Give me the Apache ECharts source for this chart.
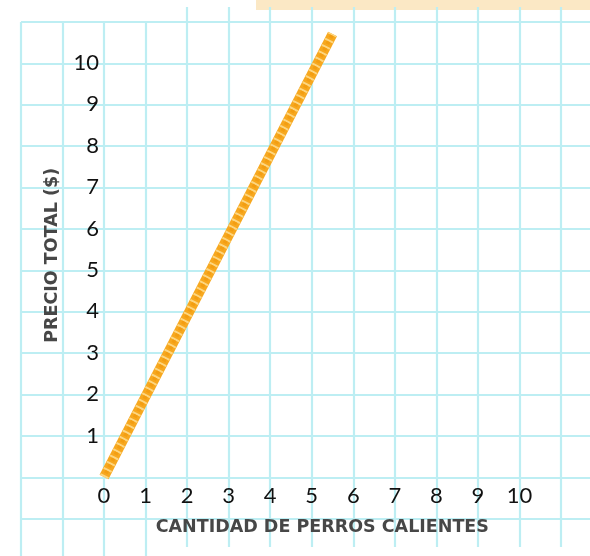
<!DOCTYPE html>
<html>
<head>
<meta charset="utf-8">
<script src="https://cdn.jsdelivr.net/npm/echarts@6/dist/echarts.min.js"></script>
<style>
html,body{margin:0;padding:0;background:#fff;}
#chart{width:590px;height:556px;}
</style>
</head>
<body>
<div id="chart"></div>
<script>
// Data
const hotDogs = [0, 5.5];          // CANTIDAD DE PERROS CALIENTES
const totalPrice = [0, 10.7];      // PRECIO TOTAL ($)
const xTickLabels = ['0','1','2','3','4','5','6','7','8','9','10'];
const yTickLabels = ['1','2','3','4','5','6','7','8','9','10'];
const xTitle = 'CANTIDAD DE PERROS CALIENTES';
const yTitle = 'PRECIO TOTAL ($)';

const UX = 41.55, UY = 41.4, X0 = 104, Y0 = 477;
const GRIDC = '#BDEEF3';
const FONT = 'Lato';
const TFONT = 'DejaVu Sans';

const ropeData = hotDogs.map((x, i) => [x, totalPrice[i]]);

const chart = echarts.init(document.getElementById('chart'), null, {renderer: 'canvas'});
const hidden = {show: false};
const noAxisLine = {show: false};

const option = {
  animation: false,
  backgroundColor: '#fff',
  graphic: [{
    type: 'rect', z: -10,
    shape: {x: 256, y: 0, width: 334, height: 10},
    style: {fill: '#FBE8C5'}
  }],
  grid: [
    // horizontal grid lines
    {left: 21, top: 22, width: 620, height: 13 * UY, outerBoundsMode: 'none', containLabel: false},
    // left vertical grid lines
    {left: X0 - 2 * UX, top: 22, width: 3 * UX, height: 545, outerBoundsMode: 'none', containLabel: false},
    // right vertical grid lines
    {left: X0 + 2 * UX, top: 7, width: 10 * UX, height: 540, outerBoundsMode: 'none', containLabel: false},
    // data grid
    {left: X0, top: Y0 - 11 * UY, width: 12 * UX, height: 11 * UY, outerBoundsMode: 'none', containLabel: false}
  ],
  xAxis: [
    {gridIndex: 0, type: 'value', min: 0, max: 1, show: false},
    {gridIndex: 1, type: 'value', min: -2, max: 1, interval: 1,
      axisLine: noAxisLine, axisTick: hidden, axisLabel: hidden,
      splitLine: {show: true, lineStyle: {color: GRIDC, width: 2.2}}},
    {gridIndex: 2, type: 'value', min: 2, max: 12, interval: 1,
      axisLine: noAxisLine, axisTick: hidden, axisLabel: hidden,
      splitLine: {show: true, lineStyle: {color: GRIDC, width: 2.2}}},
    {gridIndex: 3, type: 'value', min: 0, max: 12, interval: 1,
      axisLine: noAxisLine, axisTick: hidden, splitLine: hidden,
      axisLabel: {
        margin: 8, color: '#111', fontFamily: FONT, fontSize: 22,
        formatter: v => (xTickLabels.indexOf(String(v)) >= 0 ? String(v) : '')
      },
      name: xTitle, nameLocation: 'middle', nameGap: 41,
      nameTextStyle: {color: '#474747', fontFamily: TFONT, fontWeight: 'bold', fontSize: 17.5, padding: [0, 62, 0, 0]}
    }
  ],
  yAxis: [
    {gridIndex: 0, type: 'value', min: -2, max: 11, interval: 1,
      axisLine: noAxisLine, axisTick: hidden, axisLabel: hidden,
      splitLine: {show: true, lineStyle: {color: GRIDC, width: 2.2}}},
    {gridIndex: 1, type: 'value', min: 0, max: 1, show: false},
    {gridIndex: 2, type: 'value', min: 0, max: 1, show: false},
    {gridIndex: 3, type: 'value', min: 0, max: 11, interval: 1,
      axisLine: noAxisLine, axisTick: hidden, splitLine: hidden,
      axisLabel: {
        margin: 5, color: '#111', fontFamily: FONT, fontSize: 22,
        formatter: v => (yTickLabels.indexOf(String(v)) >= 0 ? String(v) : '')
      },
      name: yTitle, nameLocation: 'middle', nameGap: 43,
      nameTextStyle: {color: '#474747', fontFamily: TFONT, fontWeight: 'bold', fontSize: 17.5, padding: [0, 12, 0, 0]}
    }
  ],
  series: [
    {type: 'line', xAxisIndex: 3, yAxisIndex: 3, data: ropeData, symbol: 'none', z: 5,
      lineStyle: {color: '#F7A81F', width: 10, cap: 'butt'}},
    {type: 'line', xAxisIndex: 3, yAxisIndex: 3, data: ropeData, symbol: 'none', z: 6,
      lineStyle: {color: '#FDD680', width: 9, type: [2, 5], cap: 'butt'}},
    {type: 'line', xAxisIndex: 3, yAxisIndex: 3, data: ropeData, symbol: 'none', z: 7,
      lineStyle: {color: '#F39E12', width: 4, type: [3, 4], dashOffset: 3, cap: 'butt'}}
  ]
};
chart.setOption(option);
</script>
</body>
</html>
